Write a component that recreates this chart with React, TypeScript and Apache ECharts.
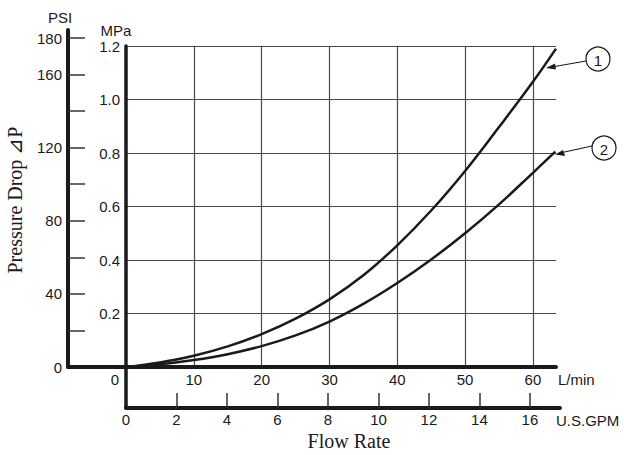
import React, { useEffect, useRef } from "react";
import * as echarts from "echarts";

// Flow rate (L/min) sample points
const flowCurve1 = [0, 5, 10, 15, 20, 25, 30, 35, 40, 45, 50, 55, 60, 63.4];
const dropCurve1 = [0, 0.017, 0.042, 0.077, 0.123, 0.181, 0.253, 0.343, 0.455, 0.585, 0.733, 0.897, 1.066, 1.19];
const flowCurve2 = [0, 5, 10, 15, 20, 25, 30, 35, 40, 45, 50, 55, 60, 63.3];
const dropCurve2 = [0, 0.01, 0.026, 0.048, 0.078, 0.118, 0.17, 0.236, 0.314, 0.402, 0.5, 0.608, 0.726, 0.805];

const psiTicks = [20, 40, 60, 80, 100, 120, 140, 160, 180];
const psiLabels = [0, 40, 80, 120, 160, 180];
const gpmTicks = [2, 4, 6, 8, 10, 12, 14, 16];
const gpmLabels = [0, 2, 4, 6, 8, 10, 12, 14, 16];

const SANS = "Liberation Sans";
const SERIF = "Liberation Serif";
const INK = "#1a1a1a";
const GRID = "#4a4a4a";

export default function App() {
  const ref = useRef<HTMLDivElement>(null);
  useEffect(() => {
    if (!ref.current) return;
    const chart = echarts.init(ref.current, undefined, { renderer: "svg" });
    const lbl = { fontFamily: SANS, fontSize: 15, color: INK };
    const option: any = {
      animation: false,
      backgroundColor: "#ffffff",
      grid: [
        { left: 126, top: 46, width: 430, height: 321 },
        { left: 68, top: 30, width: 488, height: 337 },
        { left: 126, top: 367, width: 434, height: 41 },
      ],
      xAxis: [
        {
          gridIndex: 0, type: "value", min: 0, max: 63.4, interval: 10,
          axisLine: { show: false }, axisTick: { show: false },
          axisLabel: {
            ...lbl, margin: 5,
            formatter: (v: number) => (v === 0 ? "{z|0}" : v % 10 === 0 ? String(v) : ""),
            rich: { z: { ...lbl, padding: [0, 22, 0, 0] } },
          },
          splitLine: { show: true, showMinLine: false, showMaxLine: false, lineStyle: { color: GRID, width: 1.2 } },
        },
        {
          gridIndex: 1, type: "value", min: 0, max: 1,
          axisLine: { show: true, lineStyle: { color: INK, width: 4 } },
          axisTick: { show: false }, axisLabel: { show: false }, splitLine: { show: false },
        },
        {
          gridIndex: 2, type: "value", min: 0, max: 17.19,
          axisLine: { show: true, lineStyle: { color: INK, width: 4 } },
          axisTick: { show: true, inside: true, length: 15, customValues: gpmTicks, lineStyle: { color: "#333", width: 1.5 } },
          axisLabel: { ...lbl, margin: 4, customValues: gpmLabels },
          splitLine: { show: false },
        },
      ],
      yAxis: [
        {
          gridIndex: 0, type: "value", min: 0, max: 1.2, interval: 0.2,
          axisLine: { show: true, lineStyle: { color: INK, width: 3.5 } },
          axisTick: { show: false },
          axisLabel: { ...lbl, margin: 6, formatter: (v: number) => (v === 0 ? "" : v.toFixed(1)) },
          splitLine: { show: true, showMinLine: false, lineStyle: { color: GRID, width: 1.2 } },
        },
        {
          gridIndex: 1, type: "value", min: 0, max: 184.4,
          axisLine: { show: true, lineStyle: { color: INK, width: 4 } },
          axisTick: { show: true, inside: true, length: 17, customValues: psiTicks, lineStyle: { color: "#333", width: 1.5 } },
          axisLabel: { ...lbl, margin: 6, customValues: psiLabels },
          splitLine: { show: false },
        },
        {
          gridIndex: 2, type: "value", min: 0, max: 1,
          axisLine: { show: true, lineStyle: { color: INK, width: 3.5 } },
          axisTick: { show: false }, axisLabel: { show: false }, splitLine: { show: false },
        },
      ],
      series: [
        {
          type: "line", xAxisIndex: 0, yAxisIndex: 0, smooth: 0.4, showSymbol: false, clip: false,
          data: flowCurve1.map((q, i) => [q, dropCurve1[i]]),
          lineStyle: { color: INK, width: 2.5 }, z: 5,
        },
        {
          type: "line", xAxisIndex: 0, yAxisIndex: 0, smooth: 0.4, showSymbol: false, clip: false,
          data: flowCurve2.map((q, i) => [q, dropCurve2[i]]),
          lineStyle: { color: INK, width: 2.5 }, z: 5,
        },
      ],
      graphic: [
        { type: "text", x: 60, y: 17, style: { text: "PSI", font: `15px ${SANS}`, fill: INK, textAlign: "center", textVerticalAlign: "middle" } },
        { type: "text", x: 116, y: 30, style: { text: "MPa", font: `15px ${SANS}`, fill: INK, textAlign: "center", textVerticalAlign: "middle" } },
        { type: "text", x: 558, y: 379, style: { text: "L/min", font: `15px ${SANS}`, fill: INK, textAlign: "left", textVerticalAlign: "middle" } },
        { type: "text", x: 556, y: 420, style: { text: "U.S.GPM", font: `15px ${SANS}`, fill: INK, textAlign: "left", textVerticalAlign: "middle" } },
        { type: "text", x: 349, y: 441, style: { text: "Flow Rate", font: `20px ${SERIF}`, fill: INK, textAlign: "center", textVerticalAlign: "middle" } },
        { type: "text", x: 15, y: 200, rotation: Math.PI / 2, style: { text: "Pressure Drop ⊿P", font: `20px ${SERIF}`, fill: INK, textAlign: "center", textVerticalAlign: "middle" } },
        // callout 1
        { type: "circle", shape: { cx: 598, cy: 59, r: 12 }, style: { fill: "#fff", stroke: INK, lineWidth: 1.2 } },
        { type: "text", x: 598, y: 60, style: { text: "1", font: `15px ${SANS}`, fill: INK, textAlign: "center", textVerticalAlign: "middle" } },
        { type: "line", shape: { x1: 586, y1: 61, x2: 552, y2: 67 }, style: { stroke: INK, lineWidth: 1.2 } },
        { type: "polygon", shape: { points: [[546, 68], [555, 63.5], [556, 69.5]] }, style: { fill: INK } },
        // callout 2
        { type: "circle", shape: { cx: 604, cy: 148, r: 12 }, style: { fill: "#fff", stroke: INK, lineWidth: 1.2 } },
        { type: "text", x: 604, y: 149, style: { text: "2", font: `15px ${SANS}`, fill: INK, textAlign: "center", textVerticalAlign: "middle" } },
        { type: "line", shape: { x1: 592, y1: 146, x2: 560, y2: 153 }, style: { stroke: INK, lineWidth: 1.2 } },
        { type: "polygon", shape: { points: [[555, 154.5], [563, 150], [565, 156]] }, style: { fill: INK } },
      ],
    };
    chart.setOption(option);
    return () => chart.dispose();
  }, []);
  return (
    <div
      ref={ref}
      style={{ position: "fixed", left: 0, top: 0, width: 624, height: 455, background: "#fff" }}
    />
  );
}
